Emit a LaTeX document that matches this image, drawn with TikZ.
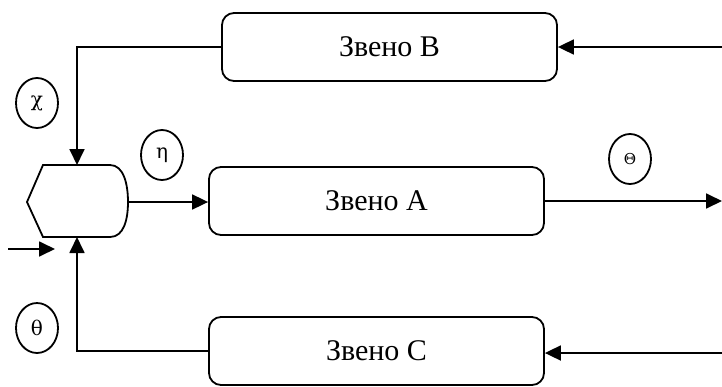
\documentclass[tikz,border=0pt]{standalone}
\usepackage{fontspec}
\setmainfont{Liberation Serif}
\newfontfamily\greekfont{DejaVu Serif}
\usetikzlibrary{arrows.meta,shapes.geometric}
\begin{document}
\begin{tikzpicture}[x=1pt,y=-1pt,
  line width=1.8pt,
  arr/.style={-{Triangle[length=16pt,width=15pt]}},
  link/.style={draw,rounded corners=12pt,minimum width=335pt,minimum height=68pt,font=\fontsize{30}{34}\selectfont,inner sep=0pt},
  sig/.style={draw,ellipse,minimum width=42pt,minimum height=50pt,inner sep=0pt,font=\greekfont\fontsize{20}{24}\selectfont}]
\useasboundingbox (0,0) rectangle (722,386);
\node[link] (B) at (389.5,47) {Звено В};
\node[link] (A) at (376.5,201) {Звено А};
\node[link] (C) at (376.5,351) {Звено С};
% summing block
\draw (27,202) -- (43,165) -- (110,165) .. controls (124,165) and (128,185) .. (128,202)
  .. controls (128,219) and (124,237) .. (110,237) -- (43,237) -- cycle;
\coordinate (sumT) at (77,165);
\coordinate (sumB) at (77,237);
\coordinate (sumR) at (128,202);
\coordinate (inS) at (8,249);
\coordinate (inE) at (55,249);
\coordinate (outE) at (722,201);
\coordinate (inB) at (722,47);
\coordinate (inC) at (722,353);
\draw[arr] (B.west) -| (sumT);
\draw[arr] (C.west) -| (sumB);
\draw[arr] (sumR) -- (sumR -| A.west);
\draw[arr] (A.east) -- (outE);
\draw[arr] (inB) -- (inB -| B.east);
\draw[arr] (inC) -- (inC -| C.east);
\draw[arr] (inS) -- (inE);
\node[sig] (chi) at (37,103) {χ};
\node[sig] (eta) at (162,155) {η};
\node[sig,font=\greekfont\fontsize{15}{18}\selectfont] (Th) at (630,159) {Θ};
\node[sig] (th) at (37,328) {θ};
\end{tikzpicture}
\end{document}
